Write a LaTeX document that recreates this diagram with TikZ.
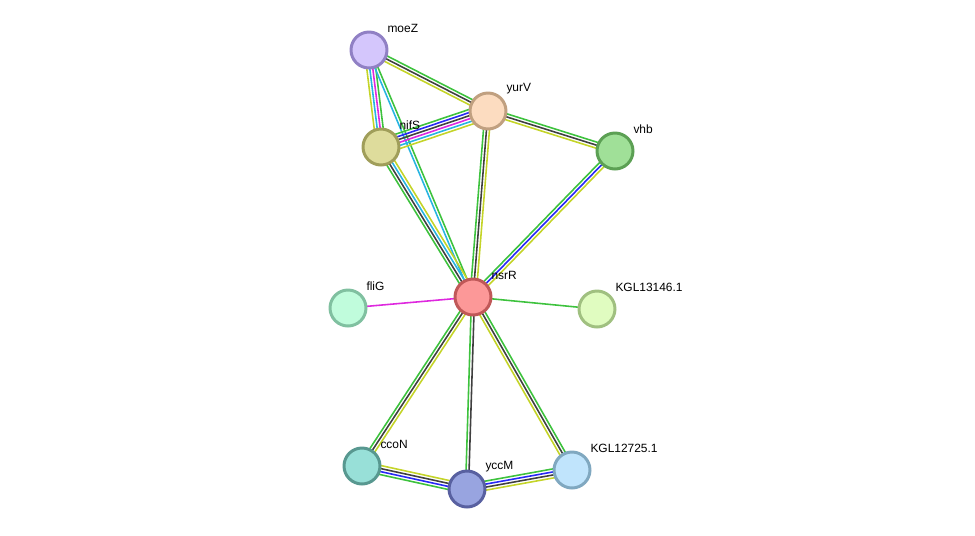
\documentclass[tikz,border=0pt]{standalone}
\usepackage{fontspec}
\setmainfont{Liberation Sans}
\usepackage{tikz}
\usetikzlibrary{calc}

\definecolor{egreen}{RGB}{61,194,61}
\definecolor{eblue}{RGB}{40,40,245}
\definecolor{eblack}{RGB}{64,64,64}
\definecolor{emagenta}{RGB}{222,40,222}
\definecolor{ecyan}{RGB}{40,180,225}
\definecolor{eyellow}{RGB}{196,212,40}

\pgfdeclarelayer{background}
\pgfsetlayers{background,main}

% parallel strands between two proteins, first colour on the right of travel
\newcommand\bundle[4]{%
  \foreach \col [count=\k] in {#4} {
    \pgfmathsetmacro\off{(\k-(#3+1)/2)*3}
    \draw[edge, \col] ($(#1.center)!\off*0.02cm!90:(#2.center)$) -- ($(#2.center)!\off*0.02cm!-90:(#1.center)$);
  }}

\begin{document}
\begin{tikzpicture}[
      x=0.02cm, y=-0.02cm,
      prot/.style={circle, draw, line width=1.7pt, minimum size=0.72cm, inner sep=0pt},
      lbl/.style={font=\fontsize{6.8}{8}\selectfont, inner sep=0.5pt, xshift=0.07cm, yshift=0.04cm},
      edge/.style={line width=0.9pt}
    ]
    \useasboundingbox (0,0) rectangle (975,535);

    \node[prot, fill={rgb,255:red,212;green,198;blue,252}, draw={rgb,255:red,144;green,128;blue,196}, label={[lbl]north east:moeZ}] (moeZ) at (369,50) {};
    \node[prot, fill={rgb,255:red,252;green,220;blue,192}, draw={rgb,255:red,192;green,160;blue,128}, label={[lbl]north east:yurV}] (yurV) at (488,111) {};
    \node[prot, fill={rgb,255:red,222;green,220;blue,156}, draw={rgb,255:red,160;green,158;blue,90}, label={[lbl]north east:nifS}] (nifS) at (381,147) {};
    \node[prot, fill={rgb,255:red,160;green,224;blue,152}, draw={rgb,255:red,92;green,160;blue,84}, label={[lbl]north east:vhb}] (vhb) at (615,151) {};
    \node[prot, fill={rgb,255:red,252;green,152;blue,152}, draw={rgb,255:red,192;green,88;blue,88}, label={[lbl]north east:nsrR}] (nsrR) at (473,297) {};
    \node[prot, fill={rgb,255:red,192;green,252;blue,220}, draw={rgb,255:red,128;green,192;blue,160}, label={[lbl]north east:fliG}] (fliG) at (348,308) {};
    \node[prot, fill={rgb,255:red,224;green,252;blue,192}, draw={rgb,255:red,160;green,192;blue,128}, label={[lbl]north east:KGL13146.1}] (kgla) at (597,309) {};
    \node[prot, fill={rgb,255:red,152;green,224;blue,216}, draw={rgb,255:red,88;green,152;blue,144}, label={[lbl]north east:ccoN}] (ccoN) at (362,466) {};
    \node[prot, fill={rgb,255:red,152;green,164;blue,224}, draw={rgb,255:red,88;green,96;blue,160}, label={[lbl]north east:yccM}] (yccM) at (467,489) {};
    \node[prot, fill={rgb,255:red,192;green,228;blue,252}, draw={rgb,255:red,128;green,168;blue,192}, label={[lbl]north east:KGL12725.1}] (kglb) at (572,470) {};

    \begin{pgfonlayer}{background}
      \bundle{moeZ}{yurV}{3}{eyellow,eblack,egreen}
      \bundle{moeZ}{nifS}{4}{eyellow,ecyan,emagenta,egreen}
      \bundle{moeZ}{nsrR}{2}{ecyan,egreen}
      \bundle{nifS}{yurV}{6}{eyellow,ecyan,emagenta,eblack,eblue,egreen}
      \bundle{yurV}{vhb}{3}{eyellow,eblack,egreen}
      \bundle{yurV}{nsrR}{3}{egreen,eblack,eyellow}
      \bundle{vhb}{nsrR}{3}{egreen,eblue,eyellow}
      \bundle{nifS}{nsrR}{4}{egreen,eblack,ecyan,eyellow}
      \bundle{fliG}{nsrR}{1}{emagenta}
      \bundle{nsrR}{kgla}{1}{egreen}
      \bundle{nsrR}{ccoN}{3}{egreen,eblack,eyellow}
      \bundle{nsrR}{yccM}{2}{egreen,eblack}
      \bundle{nsrR}{kglb}{3}{eyellow,eblack,egreen}
      \bundle{ccoN}{yccM}{4}{egreen,eblue,eblack,eyellow}
      \bundle{yccM}{kglb}{4}{eyellow,eblack,eblue,egreen}
    \end{pgfonlayer}
  \end{tikzpicture}
\end{document}
